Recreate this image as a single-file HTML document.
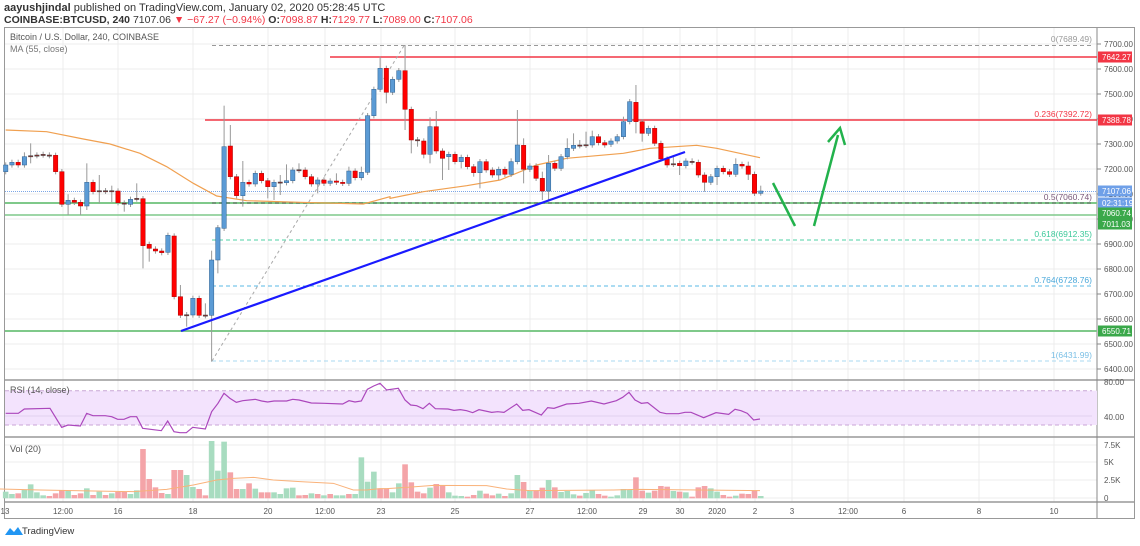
<!DOCTYPE html>
<html><head><meta charset="utf-8"><style>
body{margin:0;width:1140px;height:541px;overflow:hidden;background:#fff;font-family:"Liberation Sans",sans-serif}
svg text{font-family:"Liberation Sans",sans-serif}
</style></head><body>
<svg id="s" width="1140" height="541" xmlns="http://www.w3.org/2000/svg"></svg>
<script>
const S=document.getElementById('s');let h='';
const P=p=>44+(7700-p)/4;
// header
h+=`<text x="4" y="11" font-size="11" fill="#333"><tspan font-weight="bold">aayushjindal</tspan> published on TradingView.com, January 02, 2020 05:28:45 UTC</text>`;
h+=`<text x="4" y="23" font-size="10.5" fill="#333"><tspan font-weight="bold">COINBASE:BTCUSD, 240</tspan> 7107.06 <tspan fill="#f23645">▼ −67.27 (−0.94%)</tspan> <tspan font-weight="bold">O:</tspan><tspan fill="#f23645">7098.87</tspan> <tspan font-weight="bold">H:</tspan><tspan fill="#f23645">7129.77</tspan> <tspan font-weight="bold">L:</tspan><tspan fill="#f23645">7089.00</tspan> <tspan font-weight="bold">C:</tspan><tspan fill="#f23645">7107.06</tspan></text>`;
// frame
h+=`<rect x="4.5" y="27.5" width="1130" height="491" fill="none" stroke="#999"/>`;
// grid
const vx=[63,118,193,268,325,381,455,530,587,643,680,717,755,792,848,904,979,1054];
vx.forEach(x=>h+=`<line x1="${x}" y1="28" x2="${x}" y2="502" stroke="#ececec"/>`);
for(let p=6400;p<=7700;p+=100){const y=P(p);h+=`<line x1="5" y1="${y}" x2="1097" y2="${y}" stroke="#ececec"/><line x1="1097" y1="${y}" x2="1101" y2="${y}" stroke="#888"/><text x="1104" y="${y+3}" font-size="8" fill="#555">${p}.00</text>`;}
[[445,'7.5K'],[462,'5K'],[480,'2.5K'],[498,'0']].forEach(a=>{h+=`<line x1="5" y1="${a[0]}" x2="1097" y2="${a[0]}" stroke="#ececec"/><text x="1104" y="${a[0]+3}" font-size="8" fill="#555">${a[1]}</text>`});
// panes separators
[380,437,502].forEach(y=>h+=`<line x1="5" y1="${y}" x2="1135" y2="${y}" stroke="#999" stroke-width="1.5"/>`);
h+=`<line x1="1097" y1="28" x2="1097" y2="518" stroke="#888"/>`;
// RSI band
h+=`<rect x="5" y="390.7" width="1092" height="34.3" fill="#f3e3fd"/><line x1="5" y1="390.7" x2="1092" y2="390.7" stroke="#c9a6d6" stroke-dasharray="4,3"/><line x1="5" y1="425" x2="1092" y2="425" stroke="#c9a6d6" stroke-dasharray="4,3"/><line x1="5" y1="416" x2="1092" y2="416" stroke="#e2d0ee"/>`;
h+=`<text x="1104" y="385" font-size="8" fill="#555">80.00</text><text x="1104" y="420" font-size="8" fill="#555">40.00</text>`;
// time labels
[[5,'13'],[63,'12:00'],[118,'16'],[193,'18'],[268,'20'],[325,'12:00'],[381,'23'],[455,'25'],[530,'27'],[587,'12:00'],[643,'29'],[680,'30'],[717,'2020'],[755,'2'],[792,'3'],[848,'12:00'],[904,'6'],[979,'8'],[1054,'10']].forEach(a=>h+=`<text x="${a[0]}" y="514" font-size="8" fill="#555" text-anchor="middle">${a[1]}</text>`);
// fib & horizontal lines
h+=`<line x1="212" y1="45.5" x2="1093" y2="45.5" stroke="#999" stroke-dasharray="4,3"/>`;
h+=`<line x1="330" y1="57" x2="1097" y2="57" stroke="#f23645" stroke-width="1.6"/>`;
h+=`<line x1="205" y1="120" x2="1097" y2="120" stroke="#f23645" stroke-width="1.6"/>`;
h+=`<line x1="5" y1="191.5" x2="1097" y2="191.5" stroke="#7da7e6" stroke-dasharray="1,1"/>`;
h+=`<line x1="5" y1="203" x2="1097" y2="203" stroke="#7fc98a" stroke-width="2"/><line x1="212" y1="203" x2="1093" y2="203" stroke="#666" stroke-dasharray="4,3"/>`;
h+=`<line x1="5" y1="215" x2="1097" y2="215" stroke="#7fc98a" stroke-width="1.5"/>`;
h+=`<line x1="212" y1="240" x2="1093" y2="240" stroke="#4fd1a5" stroke-dasharray="4,3"/>`;
h+=`<line x1="212" y1="286" x2="1093" y2="286" stroke="#5ab8e6" stroke-dasharray="4,3"/>`;
h+=`<line x1="5" y1="331" x2="1097" y2="331" stroke="#7fc98a" stroke-width="2"/>`;
h+=`<line x1="212" y1="361" x2="1093" y2="361" stroke="#aad8f0" stroke-dasharray="4,3"/>`;
h+=`<line x1="212" y1="361" x2="405" y2="44" stroke="#aaa" stroke-dasharray="3,3"/>`;
[[42,'0(7689.49)','#999'],[117,'0.236(7392.72)','#f23645'],[200,'0.5(7060.74)','#7a5a7a'],[237,'0.618(6912.35)','#3cc99a'],[283,'0.764(6728.76)','#4aa8da'],[358,'1(6431.99)','#7cc0e6']].forEach(a=>h+=`<text x="1092" y="${a[0]}" font-size="8.5" fill="${a[2]}" text-anchor="end">${a[1]}</text>`);
// MA
const ma4=[[17,270],[140,275],[250,297],[330,312],[420,340],[500,380],[580,430],[650,468],[740,482],[900,487],[1090,492],[1170,470]].map(a=>[a[0]/3,a[1]/3+40]);
const ma5=[[0,475],[100,455],[230,437],[330,420],[440,375],[530,355],[700,340],[780,325],[920,316],[980,325],[1110,353]].map(a=>[a[0]/3+390,a[1]/3+40]);
h+=`<polyline points="${ma4.concat(ma5).map(a=>a.join(',')).join(' ')}" fill="none" stroke="#f0a050" stroke-width="1.2"/>`;
// candles
const C="b375,395|b367,375|r367,375|b350,375,337|d347,349,310,370|d345,347|d343,345|d345,347|r346,395|r395,493|b481,493,463,525|r481,487|r487,498,,525|b427,498,370,510|r427,455|d452,454,405,490|d452,454|d452,454,437,487|r453,488|d489,491,,515|b478,493|d475,477,430|r476,617,,685|r613,625,,665|r627,633|r633,638|b586,637|r588,770|r770,826,735|d824,826,,860|b775,825|r775,826|d825,827,790|b660,826,632,965|b563,660,,700|b320,565,197|r318,410,255|r410,467|b427,467,363,500|r427,432|b400,432|r400,422|r422,440,,475|b427,440,,480|d426,428,405,465|b422,428,373|b390,422|d389,391,370|r390,410|r410,432|b420,432,,460|r420,430|b423,430|r423,427,400|r427,430|b393,430,380|r393,413|b397,413,380|b227,397|b148,227|b85,148,50|r85,157,,190|b118,157|b92,118".split('|');
const C2="r92,208,15,270|r208,300,,340|d299,301,,320|r303,343,,355|b260,343,232,370|r260,333,213|r333,355,,420|b343,350,,390|r343,365|b352,365,,385|r352,380|r380,398,,410|b365,398,,445|r365,390|r390,405|b388,405,,420|r388,403|b365,403,355|b315,365,210|r316,388,295,430|b378,388|r378,415|r415,453,395,480|b370,453,345,485|r370,385|b350,385|b325,350,295|b316,325,280|d315,317,300|d314,316,275|b290,315,272|r290,308|r308,315|b303,313|b290,303|b245,290,230|b185,245|r187,245,135,280|r245,280,,305|b265,280|r265,310|r310,357|r357,375|d371,373,345|r370,377,,405|b363,377|d364,366,355|r367,405|r405,427,,455|b410,427|b385,410,,435|r385,395|r395,403|b373,403,355|r373,378|r378,403,365,420|r403,460|b453,460,437,467".split('|');
const col={r:['#f00','#a00'],b:['#5b9bd5','#2e5f8e'],d:['#8a2a2a','#444']};
C.concat(C2).forEach((s,i)=>{const c=s[0];const a=s.slice(1).split(',');const t=+a[0],b=+a[1];const wt=a[2]?+a[2]:t-8,wb=a[3]?+a[3]:b+8;
const x=5.7+i*6.24;const Y=v=>v/3+40;
const k=c=='d'?(i%2?'d':'d'):c;
h+=`<line x1="${x}" y1="${Y(wt)}" x2="${x}" y2="${Y(wb)}" stroke="#999"/>`;
h+=`<rect x="${x-2.2}" y="${Y(t)}" width="4.4" height="${Math.max(1.2,(b-t)/3)}" fill="${col[k][0]}" stroke="${col[k][1]}" stroke-width="0.5"/>`;});
// trendline & arrows
h+=`<line x1="181" y1="331" x2="685" y2="152" stroke="#1a1aff" stroke-width="2.2"/>`;
h+=`<line x1="773" y1="183" x2="795" y2="226" stroke="#22b24c" stroke-width="2.5"/>`;
h+=`<line x1="814" y1="226" x2="838" y2="135" stroke="#22b24c" stroke-width="2.5"/><polyline points="828,142 840,128 845,145" fill="none" stroke="#22b24c" stroke-width="2.5"/>`;
// axis label boxes
[[57,'7642.27','#f23645'],[120,'7388.78','#f23645'],[191,'7107.06','#6fa0e8'],[203,'02:31:19','#6fa0e8'],[213,'7060.74','#3aa84a'],[224,'7011.03','#3aa84a'],[331,'6550.71','#3aa84a']].forEach(a=>h+=`<rect x="1098" y="${a[0]-5.5}" width="34" height="11" fill="${a[2]}"/><text x="1102" y="${a[0]+3}" font-size="8" fill="#fff">${a[1]}</text>`);
// RSI line
const r3=[[17,130],[55,130],[73,117],[150,115],[185,172],[204,165],[241,168],[260,130],[279,137],[316,137],[335,140],[353,148],[372,148],[391,140],[410,140],[428,175],[484,182],[503,153],[522,185],[540,188],[559,188],[578,172],[616,177],[635,125],[654,100],[672,70],[690,85],[709,97],[728,92],[766,88],[785,93],[803,96],[822,93],[860,93],[878,88],[897,90],[934,99],[972,100],[1028,102],[1047,92],[1065,96],[1084,93],[1102,58],[1121,48],[1140,40]].map(a=>[a[0]/3,a[1]/3+370]);
const r6=[[0,40],[20,60],[55,55],[75,90],[92,105],[110,107],[129,116],[148,100],[166,116],[204,117],[222,121],[241,119],[260,122],[278,128],[297,119],[335,127],[353,125],[372,127],[410,102],[428,121],[447,119],[484,135],[503,113],[522,115],[560,102],[597,100],[634,93],[672,102],[709,92],[728,82],[747,67],[765,90],[784,100],[803,98],[840,127],[859,131],[896,131],[915,127],[933,127],[971,143],[1008,128],[1046,133],[1065,118],[1083,122],[1102,130],[1121,150],[1140,147]].map(a=>[a[0]/3+380,a[1]/3+370]);
h+=`<polyline points="${r3.concat(r6).map(a=>a.join(',')).join(' ')}" fill="none" stroke="#ab47bc" stroke-width="1.2"/>`;
// volume
const V1="g365,g372,r370,g360,g343,g367,g376,r378,r370,r360,g362,r375,r370,g355,r375,g365,r375,g370,r366,r366,g372,g361,r237,r327,r352,r369,g372,r300,r300,g315,g351,r357,r376,g213,g302,g215,r307,r357,g357,r340,g356,r367,r367,g367,g372,g355,g353,r376,r375,g370,r372,g376,r372,g376,g376,r372,g372,g262,g335,g305,r355".split(',');
const V2="r355,g367,g340,r283,r337,r365,r370,g353,r342,r348,g367,g377,g378,r380,r375,g362,r371,r376,g371,r378,g370,g315,r336,g363,r363,r353,g330,r352,g366,g363,g373,r377,g369,g360,r372,r377,g380,g376,g357,g360,r322,r362,g368,r362,r348,r350,g363,r365,g367,r380,r352,r348,g355,g365,r375,r380,g377,r371,r372,r362,g378".split(',');
V1.concat(V2).forEach((s,i)=>{const x=5.7+i*6.24;const t=+s.slice(1)/3+370;h+=`<rect x="${x-2.8}" y="${t}" width="5.6" height="${498.3-t}" fill="${s[0]=='g'?'#a8dcc0':'#f4a4a8'}"/>`;});
const v3=[[0,357],[120,360],[400,365],[500,358],[580,345],[650,330],[700,325],[760,322],[820,330],[900,335],[1000,340],[1060,360],[1100,360],[1140,356]].map(a=>[a[0]/3,a[1]/3+370]);
const v6=[[20,356],[80,352],[160,346],[320,347],[380,357],[450,362],[700,360],[780,358],[1140,362]].map(a=>[a[0]/3+380,a[1]/3+370]);
h+=`<polyline points="${v3.concat(v6).map(a=>a.join(',')).join(' ')}" fill="none" stroke="#f9b27a" stroke-width="1"/>`;
// pane titles
h+=`<text x="10" y="40" font-size="9" fill="#555">Bitcoin / U.S. Dollar, 240, COINBASE</text><text x="10" y="52" font-size="9" fill="#777">MA (55, close)</text>`;
h+=`<text x="10" y="393" font-size="9" fill="#555">RSI (14, close)</text><text x="10" y="452" font-size="9" fill="#555">Vol (20)</text>`;
// footer logo
h+=`<path d="M5 535 l5 -7 l4 4 l4 -5 l5 8 z" fill="#2196f3"/><text x="22" y="534" font-size="9.5" fill="#333">TradingView</text>`;
S.innerHTML=h;
</script>
</body></html>
